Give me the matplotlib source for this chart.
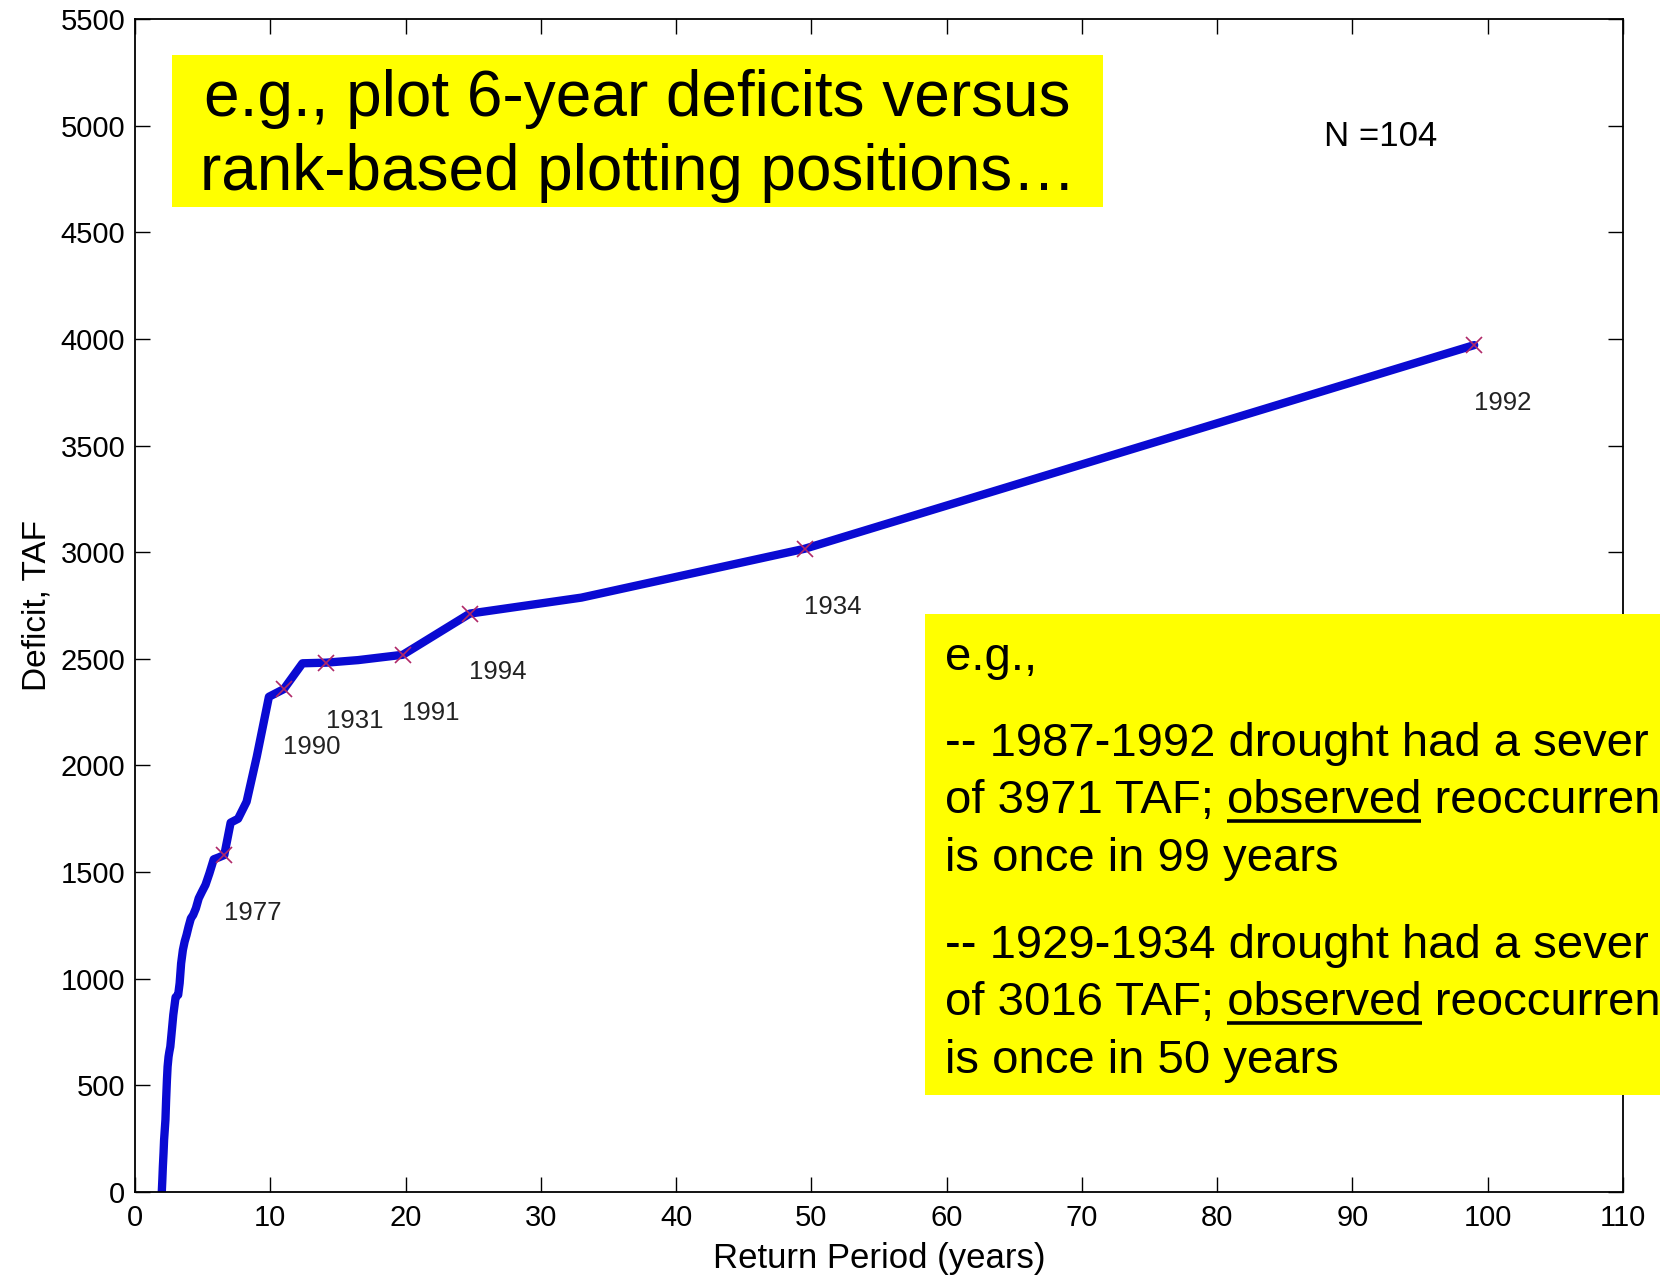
#!/usr/bin/env python3
"""
6-year drought deficits versus rank-based return periods.
Recreates the lecture slide chart with its yellow call-out boxes.
"""

import matplotlib
matplotlib.use('Agg')
import matplotlib.pyplot as plt
from matplotlib.patches import Rectangle
from matplotlib.lines import Line2D

plt.rcParams['font.family'] = ['Liberation Sans', 'DejaVu Sans']

# Return period (years) for the 50 largest 6-year deficits
return_period = [99.0, 49.5, 33.0, 24.75, 19.8, 16.5, 14.14, 12.38, 11.0, 9.9,
                 9.0, 8.25, 7.62, 7.07, 6.6, 6.19, 5.82, 5.5, 5.21, 4.95,
                 4.71, 4.5, 4.3, 4.13, 3.96, 3.81, 3.67, 3.54, 3.41, 3.3,
                 3.19, 3.09, 3.0, 2.91, 2.83, 2.75, 2.68, 2.61, 2.54, 2.48,
                 2.41, 2.36, 2.3, 2.25, 2.2, 2.15, 2.11, 2.06, 2.02, 1.98]

# Deficit (TAF)
deficit = [3971, 3016, 2787, 2712, 2519, 2494, 2482, 2479, 2358, 2322,
           2041, 1830, 1750, 1732, 1580, 1569, 1560, 1494, 1440, 1408,
           1377, 1330, 1299, 1283, 1244, 1205, 1174, 1135, 1072, 979,
           924, 919, 913, 869, 830, 775, 728, 681, 658, 634,
           588, 525, 431, 338, 291, 244, 183, 119, 56, 0]

# Which points carry a year label
labeled_index = [0, 1, 3, 4, 6, 8, 14]
labeled_year = ['1992', '1934', '1994', '1991', '1931', '1990', '1977']

x_ticks = list(range(0, 111, 10))
y_ticks = list(range(0, 5501, 500))

W, H = 1660, 1278


def fx(px):
    return px / W


def fy(py):
    return 1 - py / H


fig = plt.figure(figsize=(W / 100, H / 100), dpi=100)
ax = fig.add_axes([fx(135), fy(1192), fx(1623) - fx(135), fy(19) - fy(1192)])

ax.plot(return_period, deficit, color='#0a0ad2', linewidth=6, solid_joinstyle='round',
        solid_capstyle='round', zorder=2)

for i, year in zip(labeled_index, labeled_year):
    ax.plot(return_period[i], deficit[i], marker='x', color='#b02868', markersize=11,
            markeredgewidth=1.2, zorder=3)
    ax.annotate(year, (return_period[i], deficit[i]), xytext=(28, -58),
                textcoords='offset pixels', ha='center', va='center',
                fontsize=18.5, color='#222222')

ax.text(0.837, 0.900, 'N =104', transform=ax.transAxes, ha='center',
        va='center', fontsize=25, color='black')

ax.set_xlim(0, 110)
ax.set_ylim(0, 5500)
ax.set_xticks(x_ticks)
ax.set_yticks(y_ticks)
ax.tick_params(direction='in', length=11, width=1, top=True, right=True,
               labelsize=21, pad=9)
ax.tick_params(axis='y', pad=7)
for s in ax.spines.values():
    s.set_linewidth(1.3)
ax.set_xlabel('Return Period (years)', fontsize=25, labelpad=7)
ax.set_ylabel('Deficit, TAF', fontsize=24, labelpad=6)

# top call-out box
fig.patches.append(Rectangle((fx(172), fy(207)), fx(1103) - fx(172), fy(55) - fy(207),
                             transform=fig.transFigure, facecolor='#ffff00',
                             edgecolor='none', zorder=5))
box_cx = fx((172 + 1103) / 2)
fig.text(box_cx, fy(116), 'e.g., plot 6-year deficits versus', ha='center',
         va='baseline', fontsize=46, zorder=6)
fig.text(box_cx, fy(190), 'rank-based plotting positions\u2026', ha='center',
         va='baseline', fontsize=46, zorder=6)

# right call-out box (runs off the slide edge, words cut as on the slide)
fig.patches.append(Rectangle((fx(925), fy(1095)), fx(1700) - fx(925), fy(614) - fy(1095),
                             transform=fig.transFigure, facecolor='#ffff00',
                             edgecolor='none', zorder=5))
left = fx(945)
fs = 34
lines = [
    (670, 'e.g.,', None),
    (756, '-- 1987-1992 drought had a sever', None),
    (813, 'of 3971 TAF; observed reoccurren', 'of 3971 TAF; '),
    (871, 'is once in 99 years', None),
    (958, '-- 1929-1934 drought had a sever', None),
    (1015, 'of 3016 TAF; observed reoccurren', 'of 3016 TAF; '),
    (1073, 'is once in 50 years', None),
]
renderer = fig.canvas.get_renderer()
for py, txt, prefix in lines:
    fig.text(left, fy(py), txt, ha='left', va='baseline', fontsize=fs, zorder=6)
    if prefix is not None:
        # underline the word "observed"
        t_all = fig.text(0, 0, prefix + 'observed', fontsize=fs)
        t_word = fig.text(0, 0, 'observed', fontsize=fs)
        w_all = t_all.get_window_extent(renderer).width
        w_word = t_word.get_window_extent(renderer).width
        t_all.remove()
        t_word.remove()
        x1 = 945 + w_all
        x0 = x1 - w_word
        fig.lines.append(Line2D([fx(x0), fx(x1)], [fy(py + 8), fy(py + 8)],
                                transform=fig.transFigure, color='black',
                                linewidth=2.6, solid_capstyle='butt', zorder=6))

fig.savefig('out.png', dpi=100)
